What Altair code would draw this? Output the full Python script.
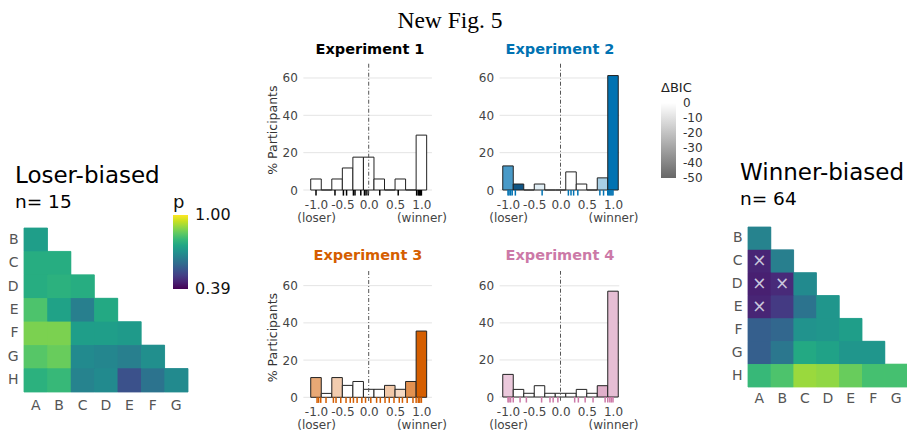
import altair as alt
import pandas as pd

# ---------------- data ----------------
cols = ["A", "B", "C", "D", "E", "F", "G"]
rows = ["B", "C", "D", "E", "F", "G", "H"]

# lower-triangle p values (row B has 1 cell, row H has 7)
loser_p = [
    [0.73],
    [0.77, 0.77],
    [0.77, 0.78, 0.77],
    [0.83, 0.74, 0.65, 0.76],
    [0.88, 0.88, 0.73, 0.73, 0.72],
    [0.84, 0.86, 0.68, 0.67, 0.65, 0.69],
    [0.78, 0.80, 0.66, 0.68, 0.54, 0.62, 0.68],
]
winner_p = [
    [0.66],
    [0.45, 0.65],
    [0.44, 0.46, 0.68],
    [0.45, 0.49, 0.62, 0.71],
    [0.57, 0.59, 0.70, 0.71, 0.73],
    [0.57, 0.63, 0.76, 0.74, 0.71, 0.71],
    [0.80, 0.83, 0.91, 0.90, 0.86, 0.82, 0.82],
]
winner_marked_rows = ["C", "D", "D", "E"]
winner_marked_cols = ["A", "A", "B", "A"]
p_ticks = [0.39, 1.00]

bin_centers = [-1.0, -0.8, -0.6, -0.4, -0.2, 0.0, 0.2, 0.4, 0.6, 0.8, 1.0]
bin_half = 0.1
x_ticks = [-1.0, -0.5, 0.0, 0.5, 1.0]
y_ticks = [0, 20, 40, 60]
dbic_ticks = [0, -10, -20, -30, -40, -50]

exp_names = ["Experiment 1", "Experiment 2", "Experiment 3", "Experiment 4"]
exp_colors = ["#000000", "#0072B2", "#D55E00", "#CC79A7"]
exp_dark = ["#222222", "#12507d", "#9a4306", "#9c4f7c"]

exp1_pct = [5.9, 0, 5.9, 11.8, 17.6, 17.6, 5.9, 0, 5.9, 0, 29.4]
exp2_pct = [12.9, 3.2, 0, 3.2, 0, 0, 9.7, 3.2, 0, 6.5, 61.3]
exp3_pct = [10.6, 2.1, 10.6, 6.4, 8.5, 4.3, 4.3, 6.4, 4.3, 8.5, 35.6]
exp4_pct = [12.2, 4.1, 2.0, 6.1, 2.0, 2.0, 2.0, 4.1, 2.0, 6.1, 57.1]

exp1_dbic = [0, 0, 0, 0, 0, 0, 0, 0, 0, 0, 0]
exp2_dbic = [-25, -48, 0, -4, 0, 0, 0, 0, 0, -12, -35]
exp3_dbic = [-19, 0, -11, 0, 0, 0, 0, -12, -8, -24, -35]
exp4_dbic = [-14, 0, 0, 0, 0, 0, 0, 0, 0, -21, -17]

exp1_rug = [-1.0, -0.64, -0.48, -0.42, -0.29, -0.26, -0.15, -0.08, -0.05, -0.01,
            0.21, 0.56, 0.91, 0.94, 0.96, 0.98, 1.0]
exp2_rug = [-1.0, -0.98, -0.95, -0.92, -0.86, -0.35, 0.15, 0.2, 0.25, 0.33,
            0.75, 0.82, 0.9, 0.92, 0.94, 0.96, 0.98, 1.0]
exp3_rug = [-0.98, -0.95, -0.91, -0.81, -0.67, -0.62, -0.53, -0.43, -0.35, -0.29,
            -0.22, -0.13, -0.06, 0.04, 0.15, 0.22, 0.31, 0.39, 0.48, 0.58, 0.64,
            0.73, 0.84, 0.9, 0.94, 0.97, 1.0]
exp4_rug = [-1.0, -0.98, -0.95, -0.9, -0.77, -0.65, -0.36, -0.2, -0.14, -0.05,
            0.27, 0.34, 0.47, 0.62, 0.85, 0.9, 0.94, 0.97, 1.0]

FONT = "DejaVu Sans"


def tri_df(pvals):
    recs = []
    for i, r in enumerate(rows):
        for j, v in enumerate(pvals[i]):
            recs.append({"row": r, "col": cols[j], "p": v})
    return pd.DataFrame(recs)


def heatmap(pvals, xr, yr, xoff, yoff, xpad, legend):
    xs = alt.Scale(domain=cols, range=xr, paddingInner=0, paddingOuter=0)
    ys = alt.Scale(domain=rows, range=yr, paddingInner=0, paddingOuter=0)
    cs = alt.Scale(scheme="viridis", domain=[0.3885, 1.0015])
    df = tri_df(pvals)
    # underlay with a thin stroke of the same colour, closing hairline seams
    under = alt.Chart(df).mark_rect(strokeWidth=0.8).encode(
        x=alt.X("col:N", scale=xs, axis=None),
        y=alt.Y("row:N", scale=ys, axis=None),
        color=alt.Color("p:Q", scale=cs, legend=None),
        stroke=alt.Stroke("p:Q", scale=cs, legend=None),
    )
    top = alt.Chart(df).mark_rect().encode(
        x=alt.X("col:N", scale=xs, title=None,
                axis=alt.Axis(orient="bottom", offset=xoff, ticks=False, domain=False,
                              grid=False, labelAngle=0, labelPadding=xpad,
                              labelFontSize=14, labelColor="#555555", labelFont=FONT)),
        y=alt.Y("row:N", scale=ys, title=None,
                axis=alt.Axis(orient="left", offset=yoff, ticks=False, domain=False,
                              grid=False, labelPadding=6, labelFontSize=14,
                              labelColor="#555555", labelFont=FONT)),
        color=alt.Color("p:Q", scale=cs, legend=legend),
    )
    return [under, top], xs, ys


def hist(pct, dbic, rug, col, dark, x0px, ppu, xdom, y0px, ppp, ytitle):
    ydom = [-3.3, 68]
    xr = [x0px + ppu * xdom[0], x0px + ppu * xdom[1]]
    yr = [y0px - ppp * ydom[0], y0px - ppp * ydom[1]]
    xs = alt.Scale(domain=xdom, range=xr, nice=False, zero=False)
    ys = alt.Scale(domain=ydom, range=yr, nice=False, zero=False)
    xoff = y0px - 432
    yoff = -xr[0]

    bdf = pd.DataFrame({"c": bin_centers, "pct": pct, "dbic": dbic})
    bdf["lo"] = bdf["c"] - bin_half
    bdf["hi"] = bdf["c"] + bin_half

    grid = alt.Chart(pd.DataFrame({"g": y_ticks})).mark_rule(
        color="#e4e4e4", strokeWidth=1).encode(
        y=alt.Y("g:Q", scale=ys, axis=None),
        x=alt.XDatum(xdom[0], type="quantitative", scale=xs, axis=None),
        x2=alt.X2Datum(xdom[1]),
    )
    lbl = ("datum.value == -1 ? ['-1.0', '(loser)'] : datum.value == 1 ? ['1.0', '(winner)']"
           " : datum.value == -0.5 ? '-0.5' : datum.value == 0 ? '0.0' : '0.5'")
    yaxis_kw = dict(orient="left", offset=yoff, values=y_ticks, grid=False, ticks=False,
                    domain=False, labelPadding=6, labelFontSize=12, labelColor="#444444",
                    labelFont=FONT, titleFont=FONT, titleFontSize=12.5,
                    titleFontWeight="normal", titleColor="#333333", titlePadding=3)
    bars = alt.Chart(bdf).mark_rect(stroke="#222222", strokeWidth=1).encode(
        x=alt.X("lo:Q", scale=xs, title=None,
                axis=alt.Axis(orient="bottom", offset=xoff, values=x_ticks, labelExpr=lbl,
                              ticks=False, domain=False, grid=False, labelPadding=9,
                              labelFontSize=12, labelColor="#444444", labelFont=FONT,
                              labelLineHeight=13, labelOverlap=False, labelFlush=False)),
        x2="hi:Q",
        y=alt.Y("pct:Q", scale=ys, title=ytitle if ytitle else None,
                axis=alt.Axis(**yaxis_kw)),
        y2=alt.Y2Datum(0),
        color=alt.Color("dbic:Q", legend=None,
                        scale=alt.Scale(domain=[-50, -35, 0], range=[dark, col, "#ffffff"],
                                        interpolate="rgb")),
    )
    rugs = alt.Chart(pd.DataFrame({"v": rug})).mark_rule(
        color=col, strokeWidth=1.5).encode(
        x=alt.X("v:Q", scale=xs, axis=None),
        y=alt.YDatum(0, type="quantitative", scale=ys, axis=None),
        y2=alt.Y2Datum(-3.0),
    )
    dash = alt.Chart(pd.DataFrame({"z": [0]})).mark_rule(
        color="#555555", strokeWidth=1, strokeDash=[4, 2, 1, 2]).encode(
        x=alt.XDatum(0, type="quantitative", scale=xs, axis=None),
        y=alt.YDatum(-2.0, type="quantitative", scale=ys, axis=None),
        y2=alt.Y2Datum(68),
    )
    return [grid, bars, rugs, dash]


def text(t, x, y, size, color="#000000", weight="normal", font=FONT, align="left"):
    return alt.Chart(pd.DataFrame({"t": [t]})).mark_text(
        fontSize=size, color=color, fontWeight=weight, font=font, align=align,
        baseline="alphabetic").encode(text="t:N", x=alt.value(x), y=alt.value(y))


layers = []

# left heatmap
p_legend = alt.Legend(orient="none", legendX=173, legendY=194, title="p", type="gradient",
                      titleFontSize=18, titleFont=FONT, titleFontWeight="normal",
                      titleColor="#111111", titlePadding=3, values=p_ticks, format=".2f",
                      labelFontSize=16, labelFont=FONT, labelColor="#111111",
                      labelOffset=7, labelOverlap=False, gradientLength=74,
                      gradientThickness=15, gradientStrokeWidth=0, padding=0)
lh, _, _ = heatmap(loser_p, [24, 188], [228, 392], 392 - 432, -24, 6, p_legend)
layers += lh

# right heatmap
rh, rxs, rys = heatmap(winner_p, [748, 907.6], [227, 387], 387 - 432, -748, 4, None)
layers += rh
marks = alt.Chart(pd.DataFrame({"row": winner_marked_rows, "col": winner_marked_cols})).mark_text(
    text="×", fontSize=17, color="#c9c6dc", font=FONT, baseline="middle").encode(
    x=alt.X("col:N", scale=rxs, axis=None),
    y=alt.Y("row:N", scale=rys, axis=None),
)
layers.append(marks)

# histograms
layers += hist(exp1_pct, exp1_dbic, exp1_rug, exp_colors[0], exp_dark[0],
               368.7, 52.7, [-1.24, 1.2], 190.0, 1.867, "% Participants")
layers += hist(exp2_pct, exp2_dbic, exp2_rug, exp_colors[1], exp_dark[1],
               560.5, 52.5, [-1.16, 1.12], 190.0, 1.867, None)
layers += hist(exp3_pct, exp3_dbic, exp3_rug, exp_colors[2], exp_dark[2],
               368.7, 52.7, [-1.24, 1.2], 397.3, 1.861, "% Participants")
layers += hist(exp4_pct, exp4_dbic, exp4_rug, exp_colors[3], exp_dark[3],
               560.5, 52.5, [-1.16, 1.12], 397.0, 1.853, None)

# delta-BIC legend (carried by an invisible layer)
dbic_legend = alt.Legend(orient="none", legendX=661, legendY=82, title="ΔBIC", type="gradient",
                         titleFontSize=13, titleFont=FONT, titleFontWeight="normal",
                         titleColor="#222222", titlePadding=8, values=dbic_ticks,
                         labelExpr="'' + datum.value", labelFontSize=12, labelFont=FONT,
                         labelColor="#333333", labelAlign="right", labelOffset=7,
                         labelOverlap=False, gradientLength=75, gradientThickness=15,
                         gradientStrokeWidth=0, padding=0)
layers.append(
    alt.Chart(pd.DataFrame({"d": dbic_ticks})).mark_point(size=0, strokeWidth=0).encode(
        x=alt.value(0), y=alt.value(0),
        color=alt.Color("d:Q", legend=dbic_legend,
                        scale=alt.Scale(domain=[-50.2, 0.2], range=["#262626", "#ffffff"],
                                        interpolate="rgb")),
    )
)

# texts
layers.append(text("New Fig. 5", 450, 28, 23.5, font="Liberation Serif", align="center"))
layers.append(text("Loser-biased", 15, 183, 23))
layers.append(text("n= 15", 15, 208, 18.5))
layers.append(text("Winner-biased", 740, 180, 23))
layers.append(text("n= 64", 740, 205, 18.5))
layers.append(text(exp_names[0], 370, 54, 14.5, exp_colors[0], "bold", align="center"))
layers.append(text(exp_names[1], 560, 54, 14.5, exp_colors[1], "bold", align="center"))
layers.append(text(exp_names[2], 368, 260, 14.5, exp_colors[2], "bold", align="center"))
layers.append(text(exp_names[3], 560, 260, 14.5, exp_colors[3], "bold", align="center"))

chart = alt.layer(*layers).resolve_scale(
    x="independent", y="independent", color="independent", stroke="independent"
).resolve_axis(
    x="independent", y="independent"
).resolve_legend(
    color="independent", stroke="independent"
).properties(
    width=907, height=432, autosize=alt.AutoSizeParams(type="none"), padding=0,
    background="white"
).configure_view(strokeWidth=0)

chart.save("out.html", embed_options={"renderer": "svg", "actions": False})
